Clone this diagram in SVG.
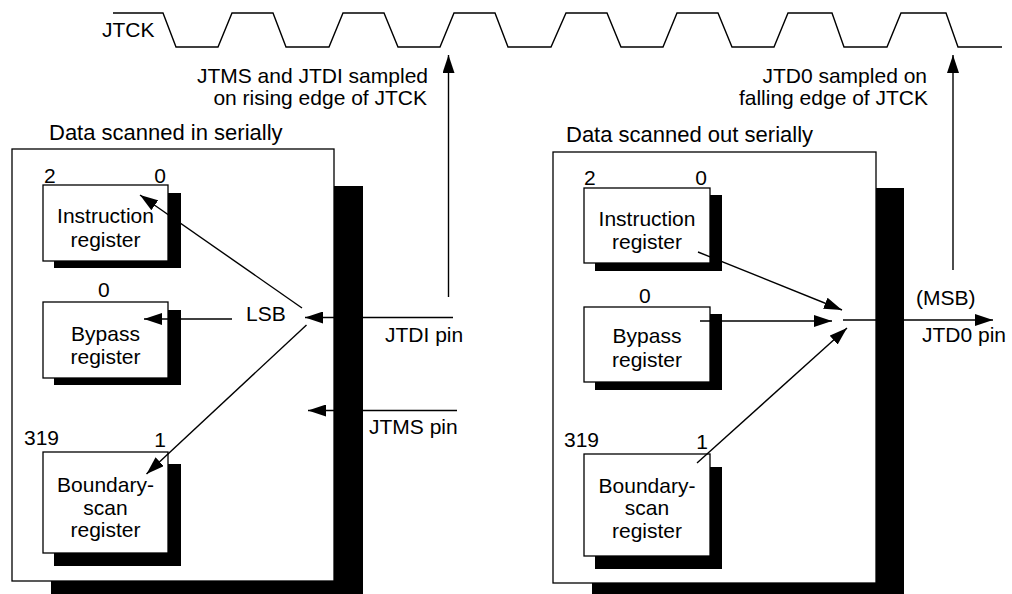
<svg xmlns="http://www.w3.org/2000/svg" width="1012" height="594" viewBox="0 0 1012 594">
<defs>
<style>
text{font-family:"Liberation Sans",Arial,sans-serif;font-size:21px;fill:#000}
.hd{font-size:22px}
.c{text-anchor:middle}
.e{text-anchor:end}
.box{fill:#fff;stroke:#000;stroke-width:1.3}
.sh{fill:#000}
.ln{fill:none;stroke:#000;stroke-width:1.4}
.ar{fill:none;stroke:#000;stroke-width:1.4;marker-end:url(#ah)}
</style>
<marker id="ah" markerUnits="userSpaceOnUse" markerWidth="18" markerHeight="12" refX="18" refY="6" orient="auto">
<path d="M0,0 L18,6 L0,12 z" fill="#000"/>
</marker>
</defs>
<rect width="1012" height="594" fill="#fff"/>

<g id="clock">
<text x="102" y="37">JTCK</text>
<path class="ln" stroke-width="1.5" d="M113,13 L163,13 L176,47 L218,47 L232,13 L273,13 L286,47 L329,47 L343,13 L384,13 L398,47 L440,47 L454,13 L495,13 L508,47 L551,47 L566,13 L607,13 L621,47 L663,47 L677,13 L718,13 L732,47 L774,47 L788,13 L832,13 L844,47 L887,47 L901,13 L946,13 L958,47 L1002,47"/>
<text class="e" x="428" y="83">JTMS and JTDI sampled</text>
<text class="e" x="427" y="105">on rising edge of JTCK</text>
<text class="e" x="927" y="83">JTD0 sampled on</text>
<text class="e" x="928" y="105">falling edge of JTCK</text>
</g>

<g id="scan-in">
<text class="hd" x="49" y="140">Data scanned in serially</text>
<rect class="sh" x="51" y="186" width="312" height="420"/>
<rect class="box" x="12" y="149" width="322" height="432"/>
</g>

<g id="in-instruction">
<rect class="sh" x="54" y="193" width="127" height="75"/>
<rect class="box" x="43" y="185" width="125" height="76"/>
<text x="44" y="183">2</text>
<text class="e" x="166" y="183">0</text>
<text class="c" x="105.5" y="223">Instruction</text>
<text class="c" x="105.5" y="247">register</text>
</g>

<g id="in-bypass">
<rect class="sh" x="54" y="310" width="127" height="75"/>
<rect class="box" x="43" y="302" width="125" height="76"/>
<text x="98" y="297">0</text>
<text class="c" x="105.5" y="341">Bypass</text>
<text class="c" x="105.5" y="364">register</text>
</g>

<g id="in-boundary">
<rect class="sh" x="54" y="464" width="127" height="102"/>
<rect class="box" x="43" y="452" width="125" height="101"/>
<text x="24" y="445">319</text>
<text class="e" x="166" y="447">1</text>
<text class="c" x="105.5" y="492">Boundary-</text>
<text class="c" x="105.5" y="515">scan</text>
<text class="c" x="105.5" y="537">register</text>
</g>

<g id="scan-out">
<text class="hd" x="566" y="142">Data scanned out serially</text>
<rect class="sh" x="592" y="188" width="312" height="420"/>
<rect class="box" x="553" y="152" width="323" height="431"/>
</g>

<g id="out-instruction">
<rect class="sh" x="595" y="195" width="127" height="76"/>
<rect class="box" x="584" y="188" width="126" height="75"/>
<text x="584" y="185">2</text>
<text class="e" x="707" y="185">0</text>
<text class="c" x="647" y="226">Instruction</text>
<text class="c" x="647" y="249">register</text>
</g>

<g id="out-bypass">
<rect class="sh" x="595" y="314" width="127" height="76"/>
<rect class="box" x="584" y="307" width="126" height="75"/>
<text x="639" y="303">0</text>
<text class="c" x="647" y="343">Bypass</text>
<text class="c" x="647" y="367">register</text>
</g>

<g id="out-boundary">
<rect class="sh" x="595" y="467" width="127" height="102"/>
<rect class="box" x="584" y="454" width="126" height="102"/>
<text x="564" y="447">319</text>
<text class="e" x="708" y="449">1</text>
<text class="c" x="647" y="493">Boundary-</text>
<text class="c" x="647" y="515">scan</text>
<text class="c" x="647" y="538">register</text>
</g>

<g id="pins">
<text x="246" y="321">LSB</text>
<text x="385" y="342">JTDI pin</text>
<text x="369" y="434">JTMS pin</text>
<text x="916" y="305">(MSB)</text>
<text x="922" y="342">JTD0 pin</text>
</g>

<g id="connectors">
<line class="ar" x1="448.5" y1="297" x2="448.5" y2="55"/>
<line class="ar" x1="953" y1="270" x2="953" y2="55"/>
<line class="ar" x1="453" y1="317.5" x2="305" y2="317.5"/>
<line class="ar" x1="457" y1="410.5" x2="308" y2="410.5"/>
<line class="ar" x1="302" y1="308" x2="140" y2="195"/>
<line class="ar" x1="232" y1="319" x2="144" y2="319"/>
<line class="ar" x1="306.5" y1="325" x2="146.5" y2="474"/>
<line class="ar" x1="698" y1="252" x2="842" y2="310"/>
<line class="ar" x1="700" y1="321" x2="832" y2="321"/>
<line class="ar" x1="697" y1="463" x2="847" y2="328"/>
<line class="ar" x1="843" y1="320" x2="993" y2="320"/>
</g>
</svg>
